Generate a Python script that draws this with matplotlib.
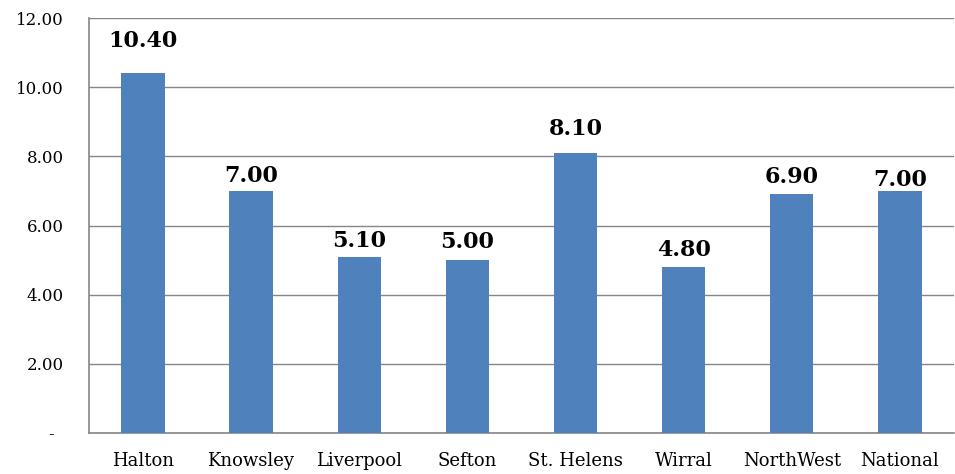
import numpy as np
import matplotlib.pyplot as plt
from matplotlib.transforms import ScaledTranslation

# data
areas = ['Halton', 'Knowsley', 'Liverpool', 'Sefton', 'St. Helens', 'Wirral', 'NorthWest', 'National']
rates = [10.40, 7.00, 5.10, 5.00, 8.10, 4.80, 6.90, 7.00]
y_ticks = [0, 2, 4, 6, 8, 10, 12]
y_tick_labels = ['-', '2.00', '4.00', '6.00', '8.00', '10.00', '12.00']

# gap (points) between bar top and its value label, as placed in the original
label_gaps = [19, 6.5, 7, 8.5, 13, 8, 8, 3.5]

plt.rcParams['font.family'] = ['DejaVu Serif']

fig = plt.figure(figsize=(9.55, 4.74), dpi=100)
ax = fig.add_axes([0.093, 0.0865, 0.906, 0.8755])

x = np.arange(len(areas))
ax.bar(x, rates, width=0.4, color='#4F81BD', zorder=3)

# value labels above the bars
for xi, v, g in zip(x, rates, label_gaps):
    ax.annotate('%.2f' % v, (xi, v), xytext=(0, g), textcoords='offset points',
                ha='center', va='baseline', fontsize=16, fontweight='bold')

ax.set_xlim(-0.5, len(areas) - 0.5)
ax.set_ylim(0, 12)
ax.set_yticks(y_ticks)
ax.set_yticklabels(y_tick_labels, fontsize=12)
ax.set_xticks(x)
ax.set_xticklabels(areas, fontsize=13)
ax.tick_params(axis='both', length=0)
ax.tick_params(axis='y', pad=18)
ax.tick_params(axis='x', pad=14)

# the zero label "-" sits a little left of the number column
zero_lbl = ax.get_yticklabels()[0]
zero_lbl.set_transform(zero_lbl.get_transform() + ScaledTranslation(-0.1, 0, fig.dpi_scale_trans))

ax.yaxis.grid(True, color='#868686', linewidth=1, zorder=0)
for side in ['top', 'right']:
    ax.spines[side].set_visible(False)
for side in ['left', 'bottom']:
    ax.spines[side].set_color('#868686')
    ax.spines[side].set_linewidth(1.2)

fig.savefig('out.png', dpi=100)
